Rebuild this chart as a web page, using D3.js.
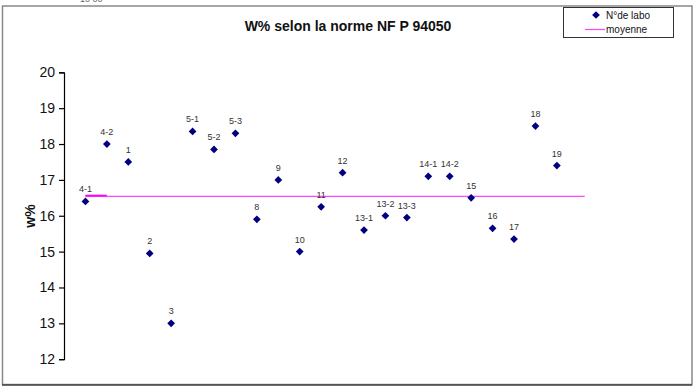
<!DOCTYPE html>
<html>
<head>
<meta charset="utf-8">
<script src="https://cdn.jsdelivr.net/npm/d3@7"></script>
<style>
  body { margin: 0; background: #fff; }
  svg { display: block; font-family: Arial, "Liberation Sans", sans-serif; }
</style>
</head>
<body>
<div id="chart"></div>
<script>
// lab ids and W% values
var labos = ['4-1','4-2','1','2','3','5-1','5-2','5-3','8','9','10','11','12',
             '13-1','13-2','13-3','14-1','14-2','15','16','17','18','19'];
var wValues = [16.4, 18.0, 17.5, 14.95, 13.0, 18.35, 17.85, 18.3, 15.9, 17.0, 15.0, 16.25, 17.2,
               15.6, 16.0, 15.95, 17.1, 17.1, 16.5, 15.65, 15.35, 18.5, 17.4];
var moyenne = 16.54;
var yTicks = [12, 13, 14, 15, 16, 17, 18, 19, 20];

var W = 693, H = 387;
var svg = d3.select('#chart').append('svg').attr('width', W).attr('height', H);

// outer frame
svg.append('text').attr('x', 80).attr('y', 2).attr('font-size', 9).attr('fill', '#666').text('10 00');
svg.append('rect').attr('x', 2.5).attr('y', 6).attr('width', 689.5).attr('height', 378.5)
  .attr('fill', '#fff').attr('stroke', '#888').attr('stroke-width', 1.5);
svg.append('line').attr('x1', 2).attr('x2', 692).attr('y1', 385).attr('y2', 385)
  .attr('stroke', '#444').attr('stroke-width', 1.5);

var x = d3.scaleLinear().domain([0, 24]).range([64, 578.3]);
var y = d3.scaleLinear().domain([12, 20]).range([359.2, 72.3]);

// title
svg.append('text').attr('x', 348).attr('y', 31).attr('text-anchor', 'middle')
  .attr('font-size', 14).attr('font-weight', 'bold').attr('fill', '#111')
  .text('W% selon la norme NF P 94050');

// y axis
var yAxis = svg.append('g').attr('transform', 'translate(64,0)')
  .call(d3.axisLeft(y).tickValues(yTicks).tickSize(5).tickPadding(4));
yAxis.select('.domain').attr('stroke', '#000').attr('stroke-width', 1.2);
yAxis.selectAll('.tick line').attr('stroke', '#000').attr('stroke-width', 1.2);
yAxis.selectAll('.tick text').attr('font-size', 14).attr('fill', '#111')
  .attr('font-family', 'Arial, "Liberation Sans", sans-serif');

svg.append('text').attr('transform', 'translate(35,216) rotate(-90)')
  .attr('text-anchor', 'middle').attr('font-size', 14).attr('font-weight', 'bold')
  .attr('fill', '#111').text('w%');

// mean line
svg.append('line').attr('x1', x(1)).attr('x2', x(24.3))
  .attr('y1', y(moyenne)).attr('y2', y(moyenne))
  .attr('stroke', '#ff44ff').attr('stroke-width', 1.3);
svg.append('line').attr('x1', x(1)).attr('x2', x(2))
  .attr('y1', y(moyenne) - 0.8).attr('y2', y(moyenne) - 0.8)
  .attr('stroke', '#ff00ff').attr('stroke-width', 1.8);

// points
var pts = labos.map(function(l, i) { return { lab: l, i: i + 1, v: wValues[i] }; });
var diamond = d3.symbol().type(d3.symbolSquare).size(30);

svg.selectAll('path.pt').data(pts).enter().append('path')
  .attr('class', 'pt')
  .attr('d', diamond)
  .attr('transform', function(d) { return 'translate(' + x(d.i) + ',' + y(d.v) + ') rotate(45)'; })
  .attr('fill', '#000080');

svg.selectAll('text.lbl').data(pts).enter().append('text')
  .attr('class', 'lbl')
  .attr('x', function(d) { return x(d.i); })
  .attr('y', function(d) { return y(d.v) - 9; })
  .attr('text-anchor', 'middle')
  .attr('font-size', 9)
  .attr('fill', '#333')
  .text(function(d) { return d.lab; });

// legend
var lg = svg.append('g');
lg.append('rect').attr('x', 563.5).attr('y', 7.5).attr('width', 110).attr('height', 30)
  .attr('fill', '#fff').attr('stroke', '#333').attr('stroke-width', 1);
lg.append('path').attr('d', diamond).attr('transform', 'translate(596,15) rotate(45)').attr('fill', '#000080');
lg.append('text').attr('x', 606).attr('y', 18.5).attr('font-size', 10).attr('fill', '#111').text('N°de labo');
lg.append('line').attr('x1', 585).attr('x2', 605).attr('y1', 29.5).attr('y2', 29.5)
  .attr('stroke', '#ff44ff').attr('stroke-width', 1.2);
lg.append('text').attr('x', 606).attr('y', 33).attr('font-size', 10).attr('fill', '#111').text('moyenne');
</script>
</body>
</html>
